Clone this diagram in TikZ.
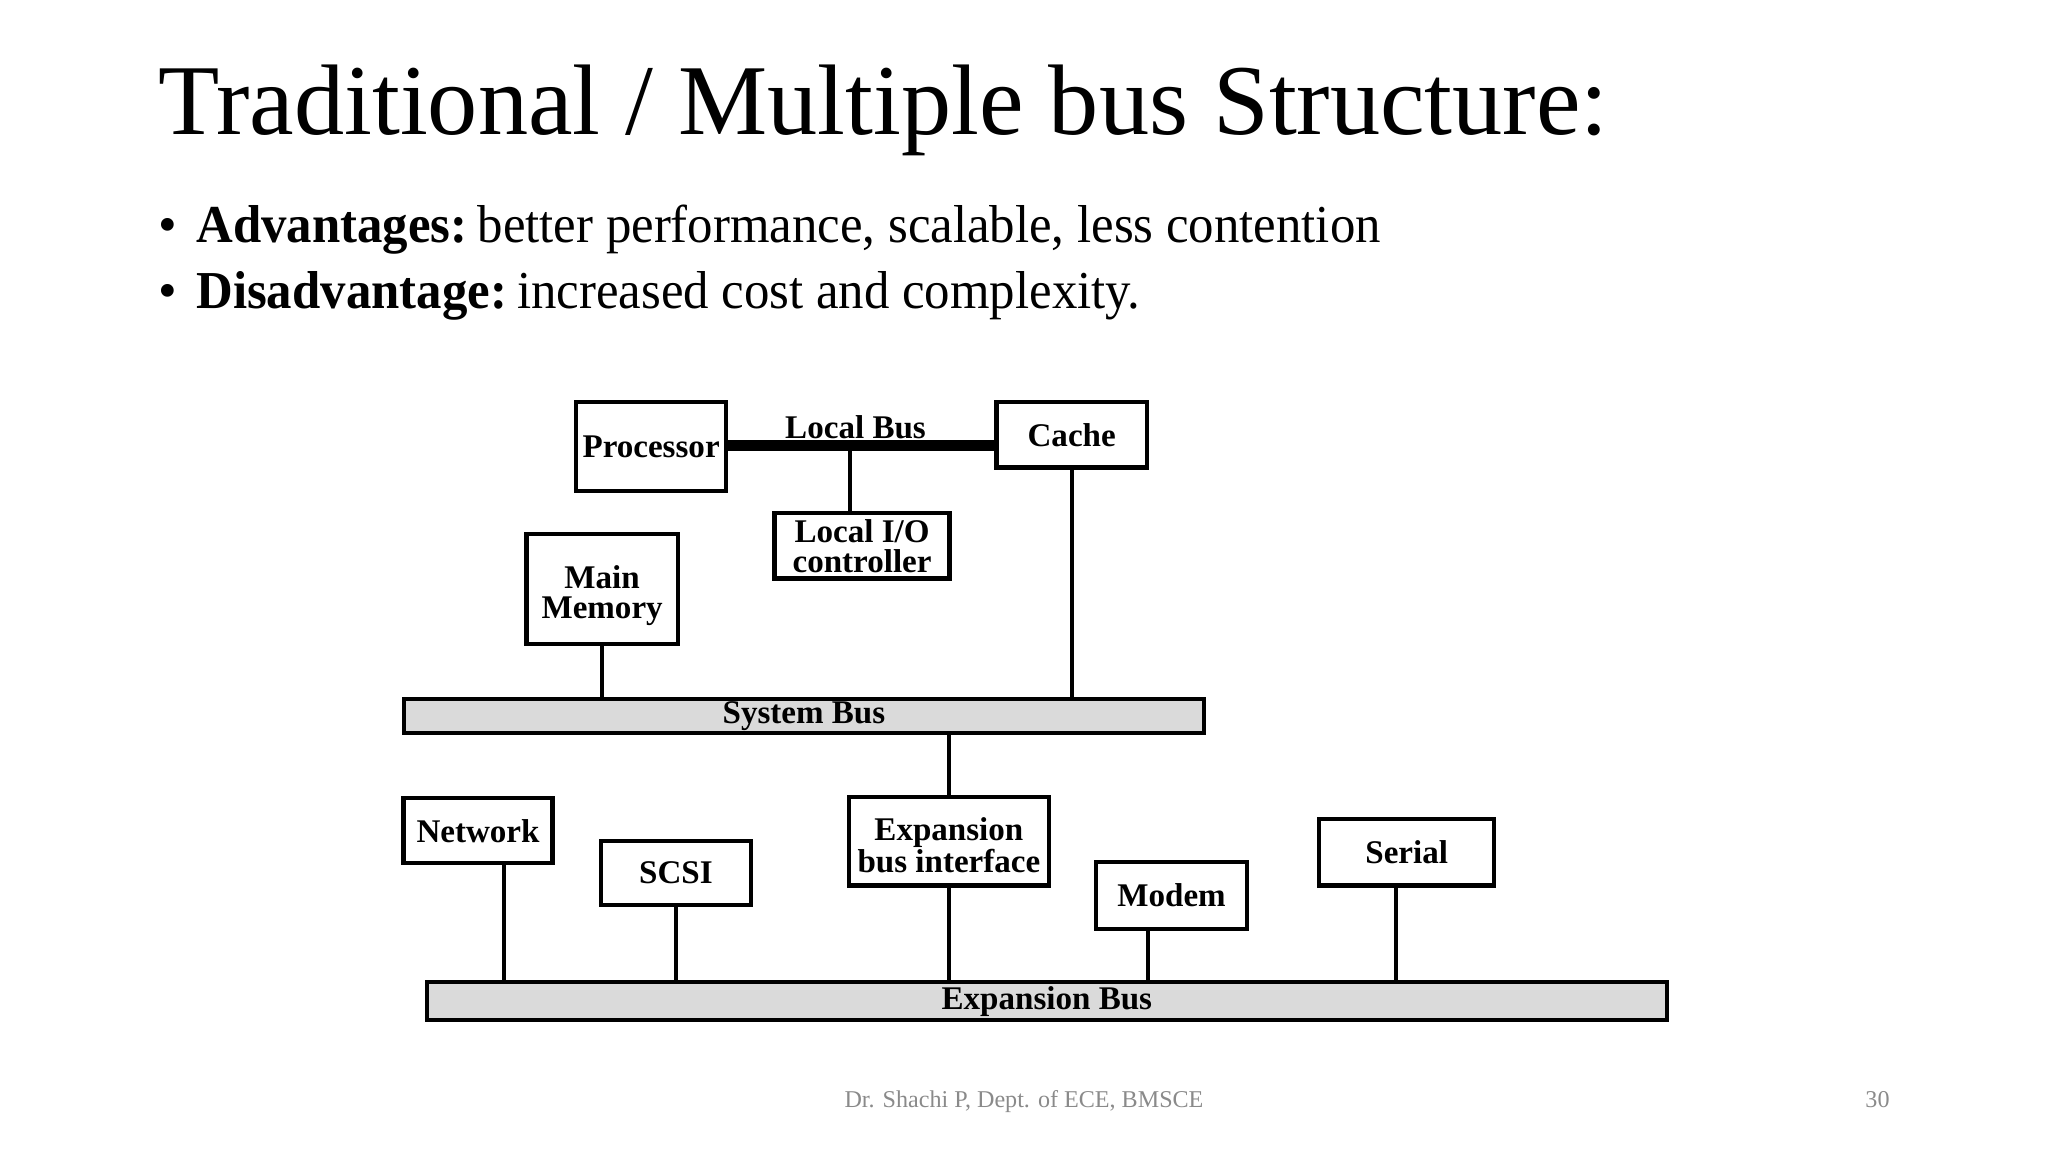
\documentclass[tikz,border=0pt]{standalone}
\usepackage{graphicx}
\usepackage{fontspec}
\setmainfont{Liberation Serif}
\newfontfamily\footfont{Liberation Serif}
\def\pxu{0.61224pt}
\definecolor{busgray}{HTML}{DADADA}
\definecolor{footgray}{HTML}{8A8A8A}
\tikzset{
  dbox/.style={draw, line width=2pt, inner sep=0pt, align=center,
    font=\fontsize{15.5}{14}\selectfont\bfseries},
  boxtext/.style={inner sep=0pt, align=center,
    font=\fontsize{15.5}{14}\selectfont\bfseries},
  busbar/.style={draw, line width=1.8pt, fill=busgray, inner sep=0pt,
    font=\fontsize{15.5}{14}\selectfont\bfseries},
  wire/.style={line width=1.9pt},
  thickwire/.style={line width=5pt},
  bullettext/.style={anchor=base west, inner sep=0pt, font=\fontsize{25}{30}\selectfont},
}
\begin{document}
\begin{tikzpicture}[x=0.61224pt, y=-0.61224pt]
\useasboundingbox (0,0) rectangle (1568,882);
% title and bullets
\node[anchor=base west, inner sep=0pt, font=\fontsize{47}{50}\selectfont] (title) at (121,103) {Traditional / Multiple bus Structure:};
\node[bullettext] (b1) at (121,186) {•};
\node[bullettext] (t1) at (150,186) {\scalebox{0.953}[1]{\textbf{Advantages:}\hspace{0.2em}better performance, scalable, less contention}};
\node[bullettext] (b2) at (121,236) {•};
\node[bullettext] (t2) at (150,236) {\scalebox{0.953}[1]{\textbf{Disadvantage:}\hspace{0.2em}increased cost and complexity.}};
% footer
\node[anchor=base, inner sep=0pt, text=footgray, font=\footfont\fontsize{11.3}{12}\selectfont] (foot) at (784,848) {Dr. Shachi P, Dept. of ECE, BMSCE};
\node[anchor=base east, inner sep=0pt, text=footgray, font=\footfont\fontsize{11.3}{12}\selectfont] (pnum) at (1447,848) {30};
% diagram boxes
\node[dbox, minimum width=115*\pxu, minimum height=68*\pxu] (proc) at (498.5,342) {Processor};
\node[dbox, minimum width=115*\pxu, minimum height=50*\pxu] (cache) at (820.5,333) {Cache};
\node[dbox, minimum width=134*\pxu, minimum height=50*\pxu] (lio) at (660,418) {Local I/O\\controller};
\node[dbox, minimum width=116*\pxu, minimum height=84*\pxu] (mm) at (461,451) {};
\node[boxtext] (mmtext) at (461,456) {Main\\Memory};
\node[busbar, minimum width=613*\pxu, minimum height=26*\pxu] (sysbus) at (615.5,548) {System Bus};
\node[dbox, minimum width=153*\pxu, minimum height=68*\pxu] (ebi) at (726.5,644) {};
\node[boxtext] (ebitext) at (726.5,647) {Expansion\\bus interface};
\node[dbox, minimum width=114*\pxu, minimum height=50*\pxu] (net) at (366,636) {Network};
\node[dbox, minimum width=115*\pxu, minimum height=49*\pxu] (scsi) at (517.5,668.5) {SCSI};
\node[dbox, minimum width=116*\pxu, minimum height=51*\pxu] (modem) at (897,685.5) {Modem};
\node[dbox, minimum width=134*\pxu, minimum height=51*\pxu] (serial) at (1077,652.5) {Serial};
\node[busbar, minimum width=949*\pxu, minimum height=29*\pxu] (expbus) at (801.5,766.5) {Expansion Bus};
% local bus
\draw[thickwire] (proc.east |- 0,341) -- (cache.west |- 0,341);
\node[inner sep=0pt, font=\fontsize{15.5}{14}\selectfont\bfseries] (lblabel) at (655,327) {Local Bus};
\coordinate (lbj) at (651,341);
\draw[wire] (lbj) -- (lbj |- lio.north);
% system bus links
\draw[wire] (mm.south) -- (mm.south |- sysbus.north);
\draw[wire] (cache.south) -- (cache.south |- sysbus.north);
\draw[wire] (ebi.north) -- (ebi.north |- sysbus.south);
% expansion bus links
\draw[wire] ([xshift=20*\pxu]net.south) -- ([xshift=20*\pxu]net.south |- expbus.north);
\draw[wire] (scsi.south) -- (scsi.south |- expbus.north);
\draw[wire] (ebi.south) -- (ebi.south |- expbus.north);
\draw[wire] ([xshift=-18*\pxu]modem.south) -- ([xshift=-18*\pxu]modem.south |- expbus.north);
\draw[wire] ([xshift=-8*\pxu]serial.south) -- ([xshift=-8*\pxu]serial.south |- expbus.north);
\end{tikzpicture}
\end{document}
